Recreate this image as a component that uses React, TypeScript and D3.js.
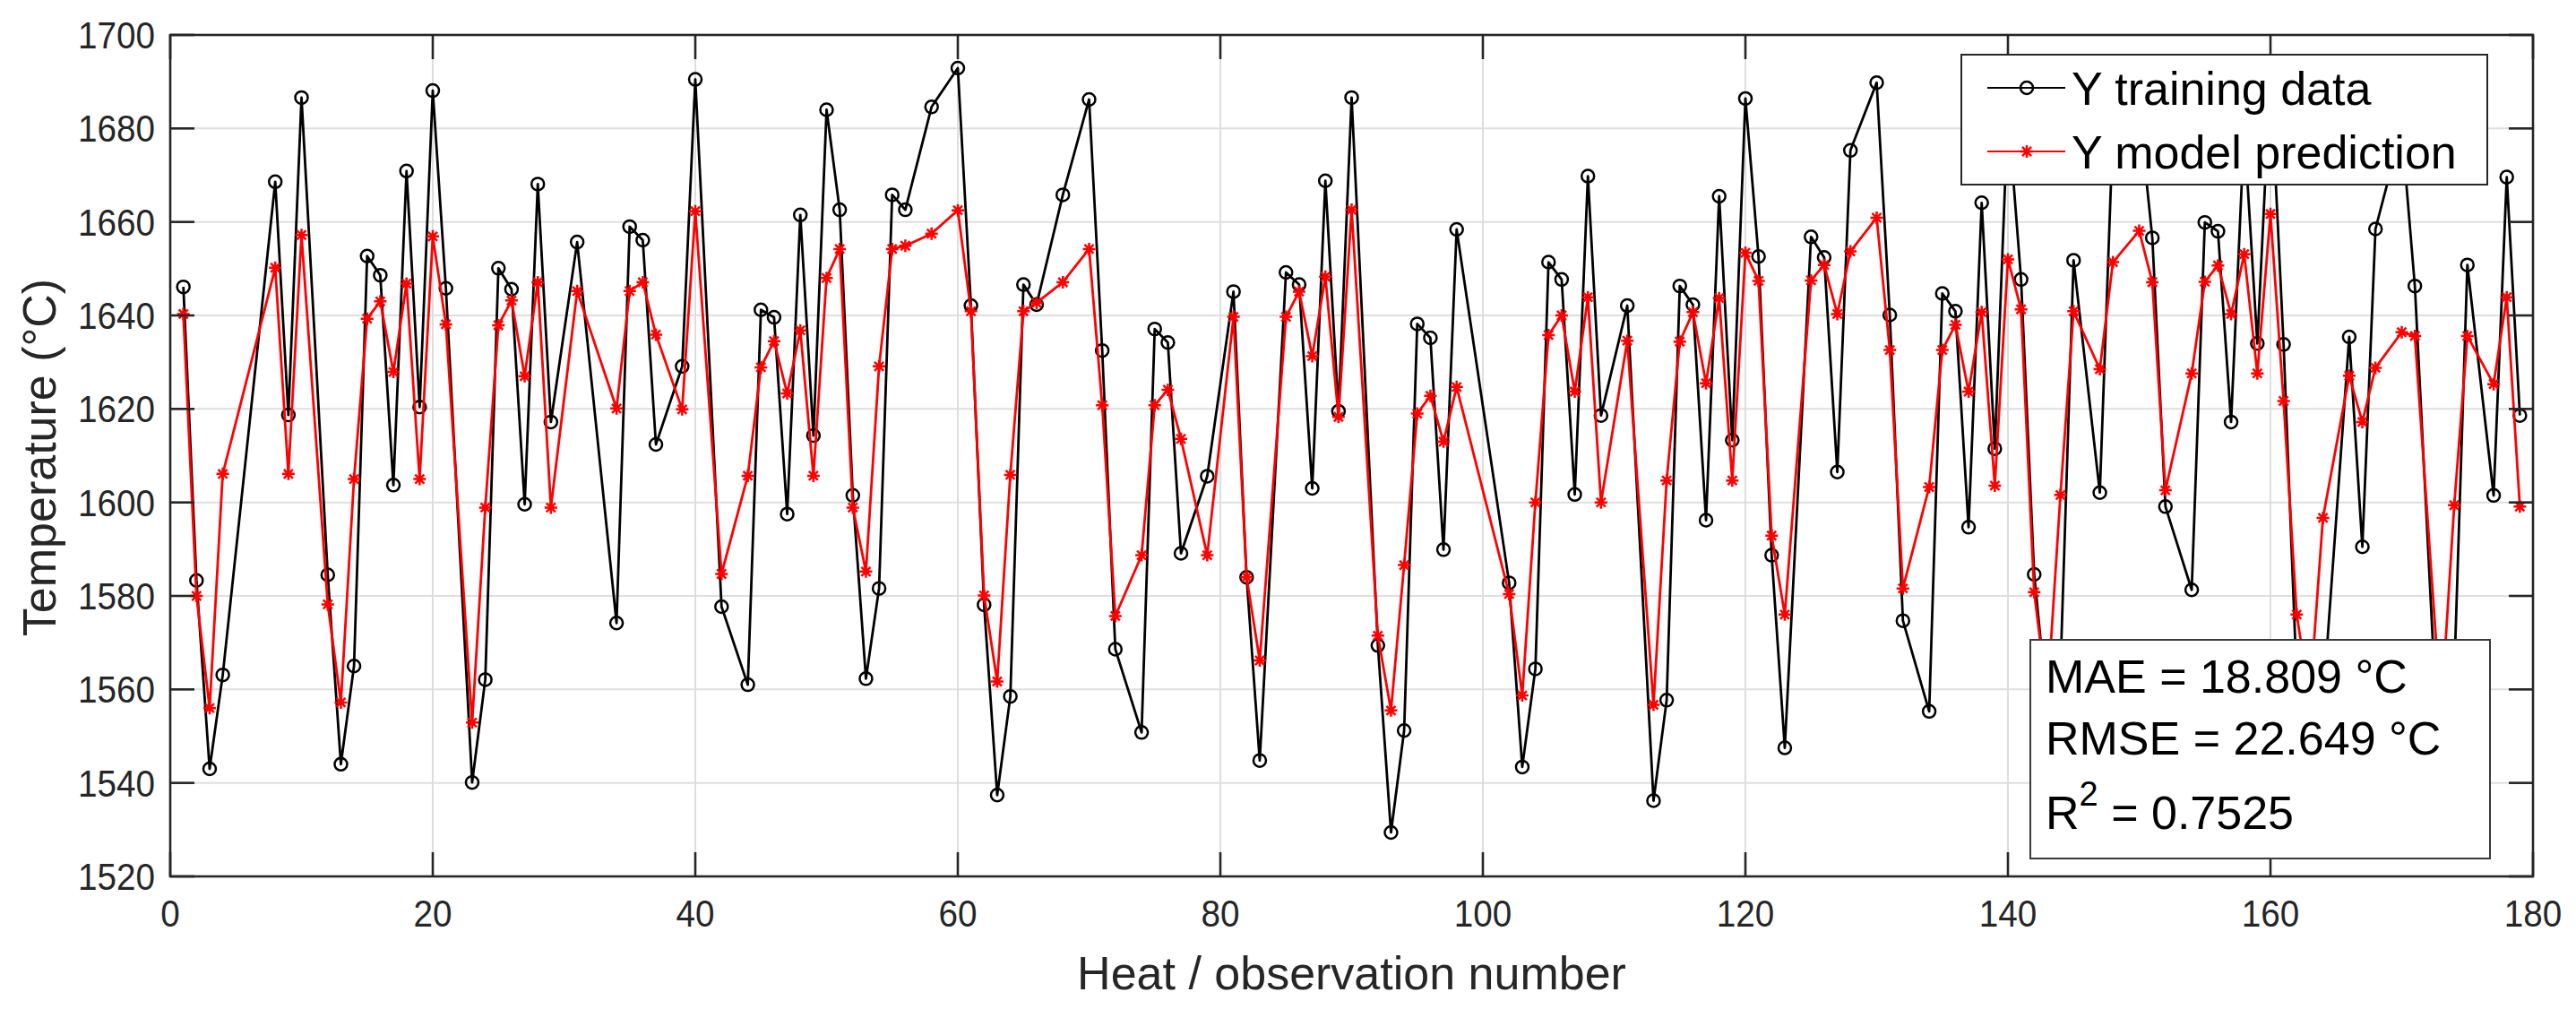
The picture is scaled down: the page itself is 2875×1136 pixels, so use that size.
import React, { useEffect, useRef } from 'react';
import * as d3 from 'd3';

// heat / observation numbers present in the training set
const heatNumbers = [
  1, 2, 3, 4, 8, 9, 10, 12, 13, 14, 15, 16, 17, 18, 19, 20, 21, 23, 24, 25, 26, 27, 28, 29, 31, 34, 35, 36, 37, 39,
  40, 42, 44, 45, 46, 47, 48, 49, 50, 51, 52, 53, 54, 55, 56, 58, 60, 61, 62, 63, 64, 65, 66, 68, 70, 71, 72, 74, 75,
  76, 77, 79, 81, 82, 83, 85, 86, 87, 88, 89, 90, 92, 93, 94, 95, 96, 97, 98, 102, 103, 104, 105, 106, 107, 108, 109,
  111, 113, 114, 115, 116, 117, 118, 119, 120, 121, 122, 123, 125, 126, 127, 128, 130, 131, 132, 134, 135, 136, 137,
  138, 139, 140, 141, 142, 143, 144, 145, 147, 148, 150, 151, 152, 154, 155, 156, 157, 158, 159, 160, 161, 162, 163,
  164, 166, 167, 168, 170, 171, 173, 174, 175, 177, 178, 179,
];

const trainingData = [
  1646.1, 1583.3, 1543.0, 1563.1, 1668.6, 1618.7, 1686.6, 1584.5, 1544.0, 1565.0, 1652.7, 1648.6, 1603.7, 1670.9,
  1620.4, 1688.1, 1645.8, 1540.1, 1562.1, 1650.1, 1645.6, 1599.6, 1668.1, 1617.2, 1655.7, 1574.2, 1659.0, 1656.1,
  1612.4, 1629.1, 1690.5, 1577.7, 1561.0, 1641.2, 1639.6, 1597.5, 1661.5, 1614.3, 1684.0, 1662.6, 1601.5, 1562.3,
  1581.6, 1665.8, 1662.6, 1684.6, 1692.9, 1642.1, 1578.1, 1537.4, 1558.5, 1646.6, 1642.3, 1665.8, 1686.2, 1632.5,
  1568.6, 1550.8, 1637.1, 1634.2, 1589.1, 1605.6, 1645.1, 1584.0, 1544.8, 1649.2, 1646.6, 1603.0, 1668.8, 1619.5,
  1686.6, 1569.4, 1529.4, 1551.2, 1638.2, 1635.2, 1589.9, 1658.4, 1582.8, 1543.4, 1564.4, 1651.4, 1647.7, 1601.7,
  1669.8, 1618.6, 1642.1, 1536.2, 1557.7, 1646.3, 1642.3, 1596.2, 1665.5, 1613.3, 1686.4, 1652.6, 1588.7, 1547.5,
  1656.8, 1652.4, 1606.5, 1675.3, 1689.8, 1640.1, 1574.7, 1555.3, 1644.7, 1640.9, 1594.7, 1664.1, 1611.5, 1684.0,
  1647.7, 1584.6, 1556.0, 1564.0, 1651.8, 1602.1, 1680.0, 1684.0, 1656.6, 1599.1, 1581.3, 1659.9, 1658.0, 1617.2,
  1680.0, 1634.0, 1692.0, 1633.8, 1562.0, 1545.0, 1557.0, 1635.4, 1590.5, 1658.5, 1680.0, 1646.3, 1535.0, 1563.0,
  1650.8, 1601.5, 1669.6, 1618.6,
];

const predictionData = [
  1640.3, 1580.0, 1556.0, 1606.1, 1650.2, 1606.1, 1657.2, 1578.2, 1557.2, 1605.0, 1639.3, 1643.0, 1627.9, 1646.8,
  1605.0, 1656.9, 1638.1, 1552.9, 1598.9, 1637.9, 1643.2, 1627.0, 1647.1, 1598.9, 1645.2, 1620.1, 1645.2, 1647.1,
  1635.9, 1619.9, 1662.3, 1584.7, 1605.7, 1628.9, 1634.5, 1623.3, 1636.8, 1605.7, 1648.0, 1654.2, 1598.9, 1585.2,
  1629.1, 1654.2, 1654.9, 1657.5, 1662.5, 1640.9, 1580.1, 1561.7, 1605.9, 1640.9, 1642.7, 1647.1, 1654.2, 1620.8,
  1575.7, 1588.7, 1620.8, 1624.1, 1613.6, 1588.7, 1639.7, 1584.0, 1566.2, 1639.7, 1645.1, 1631.3, 1648.3, 1618.3,
  1662.6, 1571.5, 1555.5, 1586.6, 1619.0, 1622.8, 1613.0, 1624.7, 1580.4, 1558.7, 1600.0, 1635.8, 1640.0, 1623.7,
  1643.9, 1600.0, 1634.6, 1556.7, 1604.7, 1634.4, 1640.7, 1625.5, 1643.7, 1604.7, 1653.4, 1647.4, 1592.9, 1576.0,
  1647.5, 1650.8, 1640.3, 1653.7, 1660.9, 1632.6, 1581.6, 1603.3, 1632.6, 1638.0, 1623.7, 1640.7, 1603.6, 1652.0,
  1641.3, 1580.8, 1558.0, 1601.6, 1640.9, 1628.5, 1651.4, 1658.1, 1647.1, 1602.6, 1627.6, 1647.2, 1650.7, 1640.3,
  1653.1, 1627.6, 1661.7, 1621.7, 1576.0, 1558.0, 1596.7, 1627.1, 1617.2, 1628.8, 1636.4, 1635.6, 1555.0, 1599.4,
  1635.6, 1625.3, 1643.9, 1599.1,
];

const xTicks = [0, 20, 40, 60, 80, 100, 120, 140, 160, 180];
const yTicks = [1520, 1540, 1560, 1580, 1600, 1620, 1640, 1660, 1680, 1700];

const seriesNames = ['Y training data', 'Y model prediction'];
const metricLines = ['MAE = 18.809 °C', 'RMSE = 22.649 °C'];
const r2Value = '0.7525';

const W = 2875;
const H = 1136;
const FONT = 'Arial, "Liberation Sans", Helvetica, sans-serif';
const INK = '#262626';

const starPath = (s: number) => {
  const d = s * 0.72;
  return `M${-s},0H${s}M0,${-s}V${s}M${-d},${-d}L${d},${d}M${-d},${d}L${d},${-d}`;
};

const App: React.FC = () => {
  const svgRef = useRef<SVGSVGElement | null>(null);

  useEffect(() => {
    if (!svgRef.current) return;
    const svg = d3.select(svgRef.current);
    svg.selectAll('*').remove();

    const margin = { top: 39, right: 48, bottom: 158, left: 190 };
    const x = d3.scaleLinear().domain([0, 180]).range([margin.left, W - margin.right]);
    const y = d3.scaleLinear().domain([1520, 1700]).range([H - margin.bottom, margin.top]);
    const [x0, x1] = x.range();
    const [y0, y1] = y.range();

    // grid
    const grid = svg.append('g').attr('stroke', '#dedede').attr('stroke-width', 2);
    grid
      .selectAll('line.gx')
      .data(xTicks.slice(1, -1))
      .enter()
      .append('line')
      .attr('x1', (d) => x(d))
      .attr('x2', (d) => x(d))
      .attr('y1', y1)
      .attr('y2', y0);
    grid
      .selectAll('line.gy')
      .data(yTicks.slice(1, -1))
      .enter()
      .append('line')
      .attr('x1', x0)
      .attr('x2', x1)
      .attr('y1', (d) => y(d))
      .attr('y2', (d) => y(d));

    const training = heatNumbers.map((h, i) => ({ h, v: trainingData[i] }));
    const predicted = heatNumbers.map((h, i) => ({ h, v: predictionData[i] }));

    const line = d3
      .line<{ h: number; v: number }>()
      .x((d) => x(d.h))
      .y((d) => y(d.v));

    // training data (black, circles)
    svg
      .append('path')
      .datum(training)
      .attr('d', line)
      .attr('fill', 'none')
      .attr('stroke', '#000')
      .attr('stroke-width', 2.8)
      .attr('stroke-linejoin', 'round');
    svg
      .append('g')
      .selectAll('circle')
      .data(training)
      .enter()
      .append('circle')
      .attr('cx', (d) => x(d.h))
      .attr('cy', (d) => y(d.v))
      .attr('r', 7)
      .attr('fill', 'none')
      .attr('stroke', '#000')
      .attr('stroke-width', 2.5);

    // model prediction (red, asterisks)
    svg
      .append('path')
      .datum(predicted)
      .attr('d', line)
      .attr('fill', 'none')
      .attr('stroke', '#ff0000')
      .attr('stroke-width', 2.8)
      .attr('stroke-linejoin', 'round');
    svg
      .append('g')
      .selectAll('path')
      .data(predicted)
      .enter()
      .append('path')
      .attr('d', starPath(7))
      .attr('transform', (d) => `translate(${x(d.h)},${y(d.v)})`)
      .attr('fill', 'none')
      .attr('stroke', '#ff0000')
      .attr('stroke-width', 2.5);

    // axes box + inward ticks on all four sides
    const axes = svg.append('g').attr('stroke', INK).attr('stroke-width', 2.6).attr('fill', 'none');
    axes.append('rect').attr('x', x0).attr('y', y1).attr('width', x1 - x0).attr('height', y0 - y1);
    const tl = 27;
    xTicks.forEach((t) => {
      axes.append('line').attr('x1', x(t)).attr('x2', x(t)).attr('y1', y0).attr('y2', y0 - tl);
      axes.append('line').attr('x1', x(t)).attr('x2', x(t)).attr('y1', y1).attr('y2', y1 + tl);
    });
    yTicks.forEach((t) => {
      axes.append('line').attr('x1', x0).attr('x2', x0 + tl).attr('y1', y(t)).attr('y2', y(t));
      axes.append('line').attr('x1', x1).attr('x2', x1 - tl).attr('y1', y(t)).attr('y2', y(t));
    });

    // tick labels (slightly condensed, like the reference)
    const labels = svg.append('g').attr('font-family', FONT).attr('fill', INK);
    labels
      .selectAll('text.xt')
      .data(xTicks)
      .enter()
      .append('text')
      .attr('x', (d) => x(d))
      .attr('y', 1034)
      .attr('font-size', 42)
      .attr('text-anchor', 'middle')
      .attr('textLength', (d) => String(d).length * 21.5)
      .attr('lengthAdjust', 'spacingAndGlyphs')
      .text((d) => d);
    labels
      .selectAll('text.yt')
      .data(yTicks)
      .enter()
      .append('text')
      .attr('x', 173)
      .attr('y', (d) => y(d) + 15)
      .attr('font-size', 42)
      .attr('text-anchor', 'end')
      .attr('textLength', (d) => String(d).length * 21.5)
      .attr('lengthAdjust', 'spacingAndGlyphs')
      .text((d) => d);

    // axis titles
    labels
      .append('text')
      .attr('x', (x0 + x1) / 2)
      .attr('y', 1104)
      .attr('font-size', 52)
      .attr('text-anchor', 'middle')
      .text('Heat / observation number');
    labels
      .append('text')
      .attr('transform', `translate(62,${(y0 + y1) / 2 + 2}) rotate(-90)`)
      .attr('font-size', 52)
      .attr('text-anchor', 'middle')
      .text('Temperature (°C)');

    // legend
    const leg = svg.append('g');
    leg
      .append('rect')
      .attr('x', 2189)
      .attr('y', 61)
      .attr('width', 587)
      .attr('height', 145)
      .attr('fill', '#fff')
      .attr('stroke', INK)
      .attr('stroke-width', 2);
    const rows = [
      { name: seriesNames[0], color: '#000', ly: 98 },
      { name: seriesNames[1], color: '#ff0000', ly: 169 },
    ];
    rows.forEach((r, i) => {
      leg
        .append('line')
        .attr('x1', 2218)
        .attr('x2', 2305)
        .attr('y1', r.ly)
        .attr('y2', r.ly)
        .attr('stroke', r.color)
        .attr('stroke-width', 2);
      if (i === 0) {
        leg
          .append('circle')
          .attr('cx', 2262)
          .attr('cy', r.ly)
          .attr('r', 7)
          .attr('fill', 'none')
          .attr('stroke', r.color)
          .attr('stroke-width', 2.5);
      } else {
        leg
          .append('path')
          .attr('d', starPath(7))
          .attr('transform', `translate(2262,${r.ly})`)
          .attr('fill', 'none')
          .attr('stroke', r.color)
          .attr('stroke-width', 2.5);
      }
      leg
        .append('text')
        .attr('x', 2312)
        .attr('y', r.ly + 19)
        .attr('font-family', FONT)
        .attr('font-size', 52)
        .attr('fill', '#000')
        .text(r.name);
    });

    // metrics text box
    const box = svg.append('g').attr('font-family', FONT).attr('font-size', 52).attr('fill', '#000');
    box
      .append('rect')
      .attr('x', 2266)
      .attr('y', 714)
      .attr('width', 513)
      .attr('height', 244)
      .attr('fill', '#fff')
      .attr('stroke', '#3a3a3a')
      .attr('stroke-width', 2);
    box.append('text').attr('x', 2283).attr('y', 773).text(metricLines[0]);
    box.append('text').attr('x', 2283).attr('y', 842).text(metricLines[1]);
    const r2 = box.append('text').attr('x', 2283).attr('y', 925);
    r2.append('tspan').text('R');
    r2.append('tspan').attr('dy', -26).attr('font-size', 38).text('2');
    r2.append('tspan').attr('dy', 26).text(` = ${r2Value}`);
  }, []);

  return (
    <svg
      ref={svgRef}
      width={W}
      height={H}
      style={{ position: 'absolute', left: 0, top: 0, background: '#fff' }}
    />
  );
};

export default App;
